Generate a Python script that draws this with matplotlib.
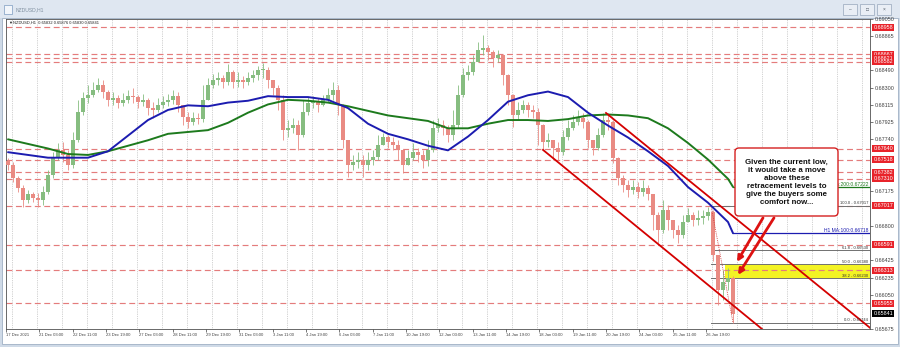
import matplotlib
matplotlib.use("Agg")
import matplotlib.pyplot as plt
import matplotlib.transforms as mtransforms
from matplotlib.patches import Rectangle, FancyBboxPatch
import numpy as np

plt.rcParams['font.family'] = ['Liberation Sans', 'DejaVu Sans']

# ---------------- data (~5 hourly bars per candle) ----------------
first_open = 0.6750
close = [0.6746, 0.6732, 0.6721, 0.6708, 0.6714, 0.6710, 0.6708, 0.6717, 0.6735, 0.6754,
         0.6762, 0.6757, 0.6746, 0.6773, 0.6804, 0.6819, 0.6822, 0.6828, 0.6833, 0.6826,
         0.6817, 0.6819, 0.6814, 0.6817, 0.6821, 0.6820, 0.6815, 0.6817, 0.6808, 0.6806,
         0.6811, 0.6815, 0.6817, 0.6821, 0.6811, 0.6798, 0.6793, 0.6797, 0.6796, 0.6817,
         0.6833, 0.6839, 0.6841, 0.6836, 0.6847, 0.6836, 0.6839, 0.6836, 0.6841, 0.6844,
         0.6850, 0.6850, 0.6839, 0.6830, 0.6817, 0.6784, 0.6786, 0.6790, 0.6779, 0.6804,
         0.6814, 0.6815, 0.6811, 0.6817, 0.6822, 0.6828, 0.6811, 0.6773, 0.6746, 0.6749,
         0.6752, 0.6746, 0.6752, 0.6755, 0.6768, 0.6776, 0.6771, 0.6768, 0.6762, 0.6746,
         0.6754, 0.6760, 0.6757, 0.6752, 0.6762, 0.6786, 0.6790, 0.6786, 0.6779, 0.6790,
         0.6822, 0.6844, 0.6847, 0.6858, 0.6871, 0.6873, 0.6869, 0.6863, 0.6866, 0.6844,
         0.6822, 0.6801, 0.6806, 0.6811, 0.6806, 0.6804, 0.6790, 0.6771, 0.6773, 0.6765,
         0.6760, 0.6776, 0.6786, 0.6793, 0.6797, 0.6793, 0.6773, 0.6765, 0.6779, 0.6795,
         0.6793, 0.6754, 0.6732, 0.6724, 0.6719, 0.6722, 0.6717, 0.6721, 0.6714, 0.6692,
         0.6675, 0.6697, 0.6686, 0.6675, 0.6670, 0.6684, 0.6692, 0.6686, 0.6688, 0.6690,
         0.6695, 0.6648, 0.6610, 0.6619, 0.6623, 0.65841]
high = [0.6754, 0.6749, 0.6734, 0.6724, 0.6719, 0.6717, 0.6716, 0.6723, 0.6741, 0.6760,
        0.6770, 0.6771, 0.6762, 0.6782, 0.6817, 0.6826, 0.6833, 0.6836, 0.6841, 0.6839,
        0.6828, 0.6826, 0.6822, 0.6824, 0.6828, 0.6830, 0.6822, 0.6823, 0.6819, 0.6815,
        0.6819, 0.6821, 0.6823, 0.6828, 0.6826, 0.6811, 0.6804, 0.6804, 0.6803, 0.6833,
        0.6841, 0.6845, 0.6847, 0.6844, 0.6856, 0.6850, 0.6847, 0.6843, 0.6847, 0.6850,
        0.6854, 0.6857, 0.6853, 0.6839, 0.6833, 0.6822, 0.6795, 0.6797, 0.6795, 0.6817,
        0.6820, 0.6821, 0.6819, 0.6822, 0.6830, 0.6836, 0.6833, 0.6813, 0.6773, 0.6757,
        0.6760, 0.6757, 0.6760, 0.6762, 0.6779, 0.6781, 0.6779, 0.6776, 0.6773, 0.6762,
        0.6762, 0.6770, 0.6765, 0.6762, 0.6773, 0.6795, 0.6797, 0.6795, 0.6790, 0.6806,
        0.6833, 0.6852, 0.6855, 0.6866, 0.6880, 0.6888, 0.6877, 0.6871, 0.6871, 0.6866,
        0.6845, 0.6823, 0.6815, 0.6817, 0.6815, 0.6811, 0.6808, 0.6791, 0.6781, 0.6773,
        0.6771, 0.6784, 0.6795, 0.6801, 0.6806, 0.6803, 0.6795, 0.6773, 0.6786, 0.6803,
        0.6803, 0.6795, 0.6755, 0.6735, 0.6730, 0.6730, 0.6728, 0.6730, 0.6724, 0.6715,
        0.6695, 0.6708, 0.6703, 0.6686, 0.6681, 0.6692, 0.6699, 0.6695, 0.6697, 0.6697,
        0.6700, 0.6697, 0.6648, 0.6632, 0.6634, 0.6625]
low = [0.6741, 0.6728, 0.6717, 0.6700, 0.6705, 0.6706, 0.6700, 0.6703, 0.6714, 0.6732,
       0.6752, 0.6749, 0.6741, 0.6743, 0.6771, 0.6801, 0.6814, 0.6820, 0.6826, 0.6819,
       0.6810, 0.6811, 0.6808, 0.6810, 0.6814, 0.6814, 0.6808, 0.6810, 0.6801, 0.6797,
       0.6804, 0.6808, 0.6810, 0.6813, 0.6804, 0.6790, 0.6786, 0.6790, 0.6791, 0.6793,
       0.6817, 0.6830, 0.6833, 0.6830, 0.6833, 0.6830, 0.6831, 0.6830, 0.6833, 0.6836,
       0.6839, 0.6841, 0.6830, 0.6822, 0.6806, 0.6773, 0.6776, 0.6781, 0.6762, 0.6776,
       0.6801, 0.6808, 0.6804, 0.6810, 0.6815, 0.6817, 0.6801, 0.6765, 0.6733, 0.6741,
       0.6743, 0.6733, 0.6741, 0.6746, 0.6752, 0.6768, 0.6765, 0.6762, 0.6752, 0.6737,
       0.6746, 0.6752, 0.6749, 0.6743, 0.6745, 0.6760, 0.6782, 0.6779, 0.6771, 0.6773,
       0.6786, 0.6820, 0.6839, 0.6844, 0.6858, 0.6866, 0.6860, 0.6853, 0.6858, 0.6833,
       0.6811, 0.6787, 0.6795, 0.6803, 0.6798, 0.6797, 0.6768, 0.6762, 0.6766, 0.6752,
       0.6752, 0.6757, 0.6773, 0.6784, 0.6790, 0.6786, 0.6765, 0.6757, 0.6762, 0.6776,
       0.6784, 0.6748, 0.6724, 0.6717, 0.6711, 0.6714, 0.6710, 0.6712, 0.6708, 0.6675,
       0.6661, 0.6672, 0.6675, 0.6667, 0.6661, 0.6667, 0.6684, 0.6680, 0.6681, 0.6682,
       0.6686, 0.6641, 0.6594, 0.6599, 0.6610, 0.65744]

ma_pos = list(range(0, 145, 4)) + [145]
ma100 = [0.6760, 0.6757, 0.6754, 0.6754, 0.6754, 0.6761, 0.6778, 0.6795, 0.6806, 0.6811,
         0.6810, 0.6814, 0.6816, 0.6821, 0.6820, 0.6820, 0.6817, 0.6808, 0.6791, 0.6780,
         0.6774, 0.6767, 0.6762, 0.6777, 0.6795, 0.6815, 0.6822, 0.6826, 0.6820, 0.6803,
         0.6789, 0.6776, 0.6761, 0.6745, 0.6722, 0.6705, 0.6684, 0.66718]
ma200 = [0.6774, 0.6769, 0.6764, 0.6758, 0.6757, 0.6761, 0.6767, 0.6773, 0.6780, 0.6782,
         0.6784, 0.6792, 0.6803, 0.6812, 0.6817, 0.6816, 0.6814, 0.6810, 0.6805, 0.6800,
         0.6797, 0.6794, 0.6786, 0.6786, 0.6791, 0.6795, 0.6795, 0.6794, 0.6796, 0.6800,
         0.6801, 0.6800, 0.6797, 0.6786, 0.6770, 0.6752, 0.6731, 0.67222]

level_lines = [0.68958, 0.68667, 0.68621, 0.68582, 0.67640, 0.67518,
               0.67382, 0.67310, 0.67017, 0.66591, 0.66313, 0.65955]
price_ticks = [0.69050, 0.68865, 0.68490, 0.68300, 0.68115, 0.67925, 0.67740,
               0.67175, 0.66800, 0.66425, 0.66235, 0.66050, 0.65675]
last_price = 0.65841

date_labels = ['17 Dec 2021', '21 Dec 03:00', '22 Dec 11:00', '23 Dec 19:00', '27 Dec 03:00',
               '28 Dec 11:00', '29 Dec 19:00', '31 Dec 03:00', '3 Jan 11:00', '4 Jan 19:00',
               '6 Jan 03:00', '7 Jan 11:00', '10 Jan 19:00', '12 Jan 03:00', '13 Jan 11:00',
               '14 Jan 19:00', '18 Jan 03:00', '19 Jan 11:00', '20 Jan 19:00', '24 Jan 03:00',
               '25 Jan 11:00', '26 Jan 19:00']

fib_names = ['0.0', '38.2', '50.0', '61.8', '100.0']
fib_prices = [0.65744, 0.66230, 0.66380, 0.66530, 0.67017]
fib_start, fib_end = 140.6, 145
band_start = 143.4

upper_x, upper_y = [119.6, 172.4], [0.68027, 0.65688]
lower_x, lower_y = [107.0, 150.8], [0.67625, 0.65675]

header = '\u25bcNZDUSD,H1  0.65832 0.65876 0.65830 0.65841'
note = ('Given the current low,\nit would take a move\nabove these\n'
        'retracement levels to\ngive the buyers some\ncomfort now...')

# ---------------- figure / window chrome ----------------
fig = plt.figure(figsize=(9, 3.47), dpi=100)
fig.patch.set_facecolor('#cfdae7')
FW, FH = 900.0, 347.0

def chrome_rect(x, y, w, h, **kw):
    r = Rectangle((x / FW, 1 - (y + h) / FH), w / FW, h / FH, transform=fig.transFigure,
                  zorder=-10, **kw)
    fig.add_artist(r)

chrome_rect(0, 0, 900, 18, fc='#dfe7f1', ec='none')
chrome_rect(2, 18, 896, 326, fc='white', ec='#9fb0c4', lw=0.6)
chrome_rect(4, 5, 8, 9, fc='#f2f6fb', ec='#7d9cc0', lw=0.5)
fig.text(16 / FW, 1 - 9.5 / FH, 'NZDUSD,H1', fontsize=3.6, color='#8090a0', va='center')
for bx, sym in zip([843, 860, 877], ['\u2013', '\u25a1', '\u00d7']):
    chrome_rect(bx, 4, 14, 11, fc='#e9eef5', ec='#95a6ba', lw=0.5)
    fig.text((bx + 7) / FW, 1 - 9.5 / FH, sym, fontsize=3.5, color='#505a66',
             ha='center', va='center')

ax = fig.add_axes([6 / FW, 18 / FH, 864 / FW, 310 / FH])
ax.set_facecolor('white')
ax.set_xlim(-0.4, 172.4)
ax.set_ylim(0.65675, 0.69050)
for s in ax.spines.values():
    s.set_color('#505050')
    s.set_linewidth(0.6)

trans = mtransforms.blended_transform_factory(ax.transAxes, ax.transData)

# vertical dotted grid
for g in np.arange(0.74, 172, 5):
    ax.axvline(g, color='#a8a8a8', lw=0.5, ls=(0, (1, 1.6)), zorder=0.5)

# yellow retracement band
ax.add_patch(Rectangle((band_start, fib_prices[1]), 172.4 - band_start,
                       fib_prices[2] - fib_prices[1], fc='#f3f324', ec='none', zorder=1))

# horizontal support / resistance lines
for p in level_lines:
    ax.axhline(p, color='#e47c7c', lw=0.85, ls=(0, (5, 3)), zorder=2)

# candles
idx = np.arange(len(close))
opens = np.array([first_open] + close[:-1])
closes = np.array(close)
up = closes >= opens
cols = np.where(up, '#86bd80', '#e98b83')
ax.vlines(idx, low, high, colors=cols, lw=0.6, zorder=3)
body = np.maximum(np.abs(closes - opens), 0.00004)
ax.bar(idx, body, bottom=np.minimum(opens, closes), width=0.7, color=cols, lw=0, zorder=3)

# fibonacci
for name, p in zip(fib_names, fib_prices):
    ax.plot([fib_start, 172.4], [p, p], color='#707070', lw=0.7, zorder=2.5)
    ax.text(0.998, p + 0.00004, f'{name} - {p:.5f}', transform=trans, ha='right',
            va='bottom', fontsize=3.0, color='#303030', zorder=6)
ax.plot([fib_start, fib_end], [fib_prices[-1], fib_prices[0]], color='#cc3333',
        lw=0.6, ls=(0, (1, 1.2)), zorder=3.5)

# moving averages
for vals, col, lab in [(ma200, '#1d7a1d', 'H1 MA:200:'), (ma100, '#1c1cb0', 'H1 MA:100:')]:
    ax.plot(ma_pos, vals, color=col, lw=1.4, zorder=4, solid_capstyle='round')
    ax.plot([ma_pos[-1], 172.4], [vals[-1], vals[-1]], color=col, lw=0.9, zorder=4)
    ax.text(0.998, vals[-1] + 0.00004, f'{lab}{vals[-1]:.5f}', transform=trans, ha='right',
            va='bottom', fontsize=3.6, color=col, zorder=4)

# channel lines
ax.plot(upper_x, upper_y, color='#d40000', lw=1.3, zorder=5)
ax.plot(lower_x, lower_y, color='#d40000', lw=1.3, zorder=5)

# annotation box (placed in inches so the rounded corners stay round) + arrows
box = FancyBboxPatch((7.35, 1.31), 1.03, 0.68, boxstyle='round,pad=0,rounding_size=0.04',
                     transform=fig.dpi_scale_trans, fc='white', ec='#d42020', lw=1.0, zorder=8)
ax.add_artist(box)
box.set_clip_on(False)
ax.text(7.865, 1.645, note, transform=fig.dpi_scale_trans, ha='center', va='center',
        fontsize=5.7, fontweight='bold', linespacing=1.2, color='#111111', zorder=9)
for tail, head in [((151.0, 0.66885), (145.8, 0.66406)), ((153.2, 0.66885), (146.0, 0.66264))]:
    ax.annotate('', xy=head, xytext=tail, zorder=7,
                arrowprops=dict(arrowstyle='-|>', color='#dd1111', lw=2.0, mutation_scale=8,
                                shrinkA=0, shrinkB=0))

# header line
ax.text(0.003, 0.995, header, transform=ax.transAxes, va='top', ha='left',
        fontsize=2.9, color='#202020', zorder=9)

# axes ticks
ax.yaxis.tick_right()
ax.set_yticks(price_ticks)
ax.set_yticklabels([f'{p:.5f}' for p in price_ticks])
ax.tick_params(axis='y', length=2.2, width=0.5, pad=1.5, labelsize=3.9, colors='#404040')
tick_pos = -0.4 + np.arange(len(date_labels)) * 6.667
ax.set_xticks(tick_pos)
ax.set_xticklabels(date_labels)
for t in ax.get_xticklabels():
    t.set_ha('left')
ax.tick_params(axis='x', length=2, width=0.5, pad=1.2, labelsize=3.0, colors='#404040')

# price flags on the right axis
for p in level_lines:
    ax.text(1.004, p, f'{p:.5f}', transform=trans, ha='left', va='center', fontsize=3.9,
            color='white', clip_on=False, zorder=10,
            bbox=dict(boxstyle='square,pad=0.18', fc='#e8232a', ec='none'))
ax.text(1.004, last_price, f'{last_price:.5f}', transform=trans, ha='left', va='center',
        fontsize=3.9, color='white', clip_on=False, zorder=10,
        bbox=dict(boxstyle='square,pad=0.18', fc='black', ec='none'))

fig.savefig('out.png', dpi=100, facecolor=fig.get_facecolor())
